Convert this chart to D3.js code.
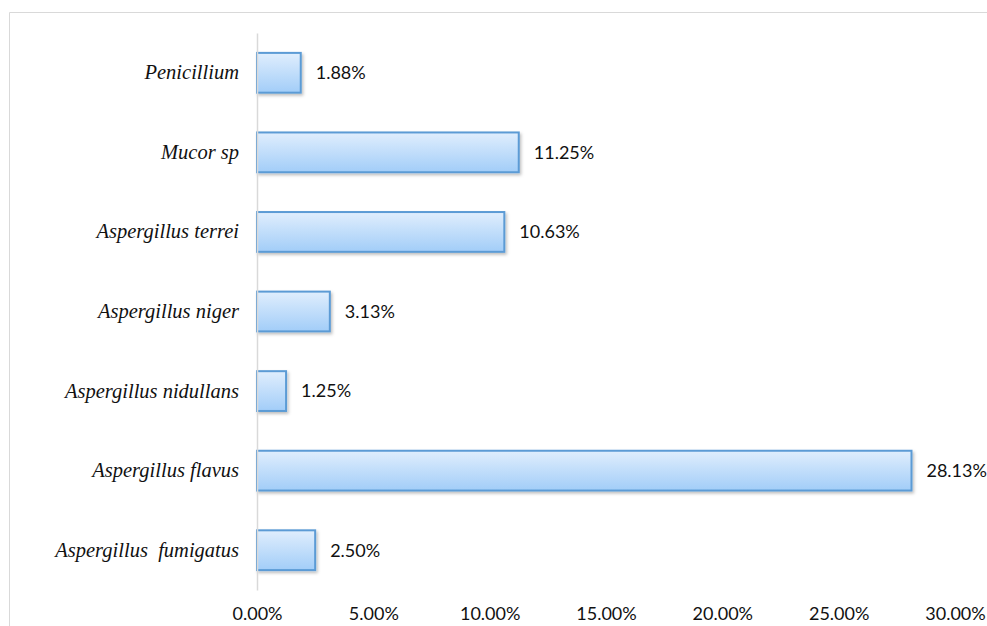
<!DOCTYPE html>
<html>
<head>
<meta charset="utf-8">
<script src="https://cdn.jsdelivr.net/npm/d3@7"></script>
<style>
  body { margin: 0; background: #fff; }
  .cat text { font-family: "Liberation Serif", "DejaVu Serif", serif; font-style: italic; font-size: 20.5px; fill: #111; white-space: pre; }
  .val, .xaxis text { font-family: Lato, "Open Sans", sans-serif; font-size: 18px; fill: #111; }
</style>
</head>
<body>
<script>
const categories = ['Penicillium', 'Mucor sp', 'Aspergillus terrei', 'Aspergillus niger',
  'Aspergillus nidullans', 'Aspergillus flavus', 'Aspergillus  fumigatus'];
const values = [1.88, 11.25, 10.63, 3.13, 1.25, 28.13, 2.50];
const xTicks = [0, 5, 10, 15, 20, 25, 30];

const width = 987;
const height = 626;
const margin = {top: 33, right: 32, bottom: 36, left: 257};

const svg = d3.select('body')
  .append('svg')
  .attr('width', width)
  .attr('height', height);

// outer frame (only top and left edges visible)
svg.append('path')
  .attr('d', `M9.5,${height} V12.5 H${width}`)
  .attr('fill', 'none')
  .attr('stroke', '#d9d9d9');

const defs = svg.append('defs');
const grad = defs.append('linearGradient')
  .attr('id', 'barGrad')
  .attr('x1', 0).attr('y1', 0).attr('x2', 0).attr('y2', 1);
grad.append('stop').attr('offset', '0%').attr('stop-color', '#e0eefd');
grad.append('stop').attr('offset', '100%').attr('stop-color', '#a2cdf8');

const shadow = defs.append('filter').attr('id', 'shadow')
  .attr('x', '-10%').attr('y', '-20%').attr('width', '130%').attr('height', '160%');
shadow.append('feDropShadow')
  .attr('dx', 1.5).attr('dy', 2).attr('stdDeviation', 1.5)
  .attr('flood-color', '#000').attr('flood-opacity', 0.25);

const x = d3.scaleLinear()
  .domain([0, 30])
  .range([margin.left, width - margin.right]);

const y = d3.scaleBand()
  .domain(categories)
  .range([margin.top, height - margin.bottom])
  .paddingInner(0.5)
  .paddingOuter(0.25);

const fmt = d => d3.format('.2f')(d) + '%';

// bars
svg.append('g')
  .selectAll('rect')
  .data(values)
  .enter()
  .append('rect')
  .attr('x', x(0))
  .attr('y', (d, i) => y(categories[i]))
  .attr('width', d => x(d) - x(0))
  .attr('height', y.bandwidth())
  .attr('fill', 'url(#barGrad)')
  .attr('stroke', '#5b9bd5')
  .attr('stroke-width', 2)
  .attr('filter', 'url(#shadow)');

// value labels
svg.append('g')
  .selectAll('text')
  .data(values)
  .enter()
  .append('text')
  .attr('class', 'val')
  .attr('x', d => x(d) + 15)
  .attr('y', (d, i) => y(categories[i]) + y.bandwidth() / 2)
  .attr('dy', '0.35em')
  .text(fmt);

// vertical category axis
const yAxis = svg.append('g')
  .attr('class', 'cat')
  .attr('transform', `translate(${margin.left},0)`)
  .call(d3.axisLeft(y).tickSize(0).tickPadding(18));
yAxis.select('.domain').attr('stroke', '#d9d9d9').attr('stroke-width', 1.5);

// bottom value axis (labels only)
const xAxis = svg.append('g')
  .attr('class', 'xaxis')
  .attr('transform', `translate(0,${height - 22})`)
  .call(d3.axisBottom(x).tickValues(xTicks).tickSize(0).tickFormat(fmt));
xAxis.select('.domain').remove();
</script>
</body>
</html>
